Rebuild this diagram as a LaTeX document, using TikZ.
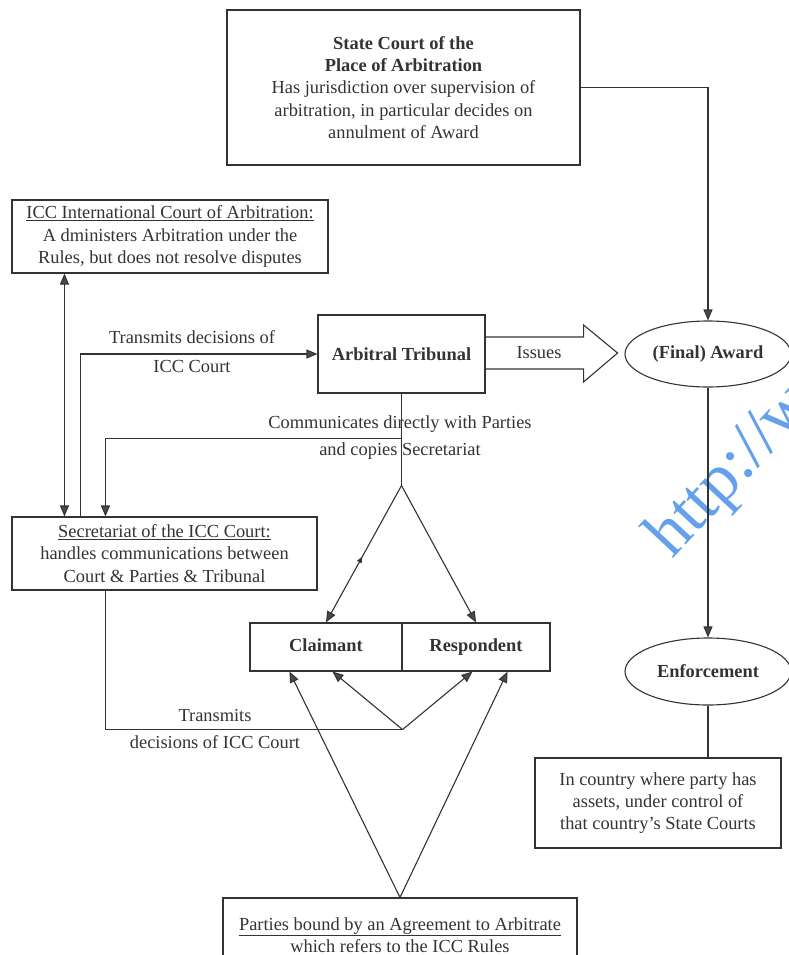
\documentclass[tikz,border=0pt]{standalone}
\usepackage{fontspec}
\setmainfont{Liberation Serif}
\usetikzlibrary{arrows.meta,shapes.geometric,calc,decorations.markings}
\definecolor{ink}{HTML}{333333}
\definecolor{tipc}{HTML}{4a4a4a}
\definecolor{wm}{RGB}{100,160,235}
\begin{document}
\begin{tikzpicture}[x=1pt,y=-1pt,
  every node/.style={font=\fontsize{18.4}{22.3}\selectfont, text=ink},
  box/.style={draw=ink, line width=1.1pt, align=center, inner sep=0pt},
  oval/.style={ellipse, draw=ink, line width=1.1pt, inner sep=0pt},
  conn/.style={draw=ink, line width=1.1pt},
  arr/.style={conn, -{Triangle[length=11pt,width=9pt,fill=tipc]}},
  arrtwo/.style={conn, {Triangle[length=11pt,width=9pt,fill=tipc]}-{Triangle[length=11pt,width=9pt,fill=tipc]}},
  midmark/.style={postaction={decorate}, decoration={markings, mark=at position 0.52 with {\arrowreversed[fill=tipc]{Triangle[length=6pt,width=5pt]}}}},
  lbl/.style={align=center, inner sep=0pt},
  party/.style={box, minimum height=48pt, text height=13pt, text depth=4pt}
]
\useasboundingbox (0,0) rectangle (788,955);

% watermark (behind everything)
\node[rotate=47, anchor=base west, inner sep=0pt, text=wm, font=\fontsize{68}{68}\selectfont] (wmark) at (672,560) {http://w};

% boxes
\node[box, minimum width=353pt, minimum height=155pt] (top) at (403.5,87.5)
  {\textbf{State Court of the}\\\textbf{Place of Arbitration}\\Has jurisdiction over supervision of\\arbitration, in particular decides on\\annulment of Award};
\node[box, minimum width=316pt, minimum height=73pt] (icc) at (170,236.5)
  {\underline{ICC International Court of Arbitration:}\\A dministers Arbitration under the\\Rules, but does not resolve disputes};
\node[box, minimum width=167pt, minimum height=78pt] (trib) at (401.5,354) {\textbf{Arbitral Tribunal}};
\node[oval, minimum width=166pt, minimum height=66pt] (award) at (708,354) {\textbf{(Final) Award}};
\node[box, minimum width=305pt, minimum height=73pt] (sec) at (164.5,553.5)
  {\underline{Secretariat of the ICC Court:}\\handles communications between\\Court \& Parties \& Tribunal};
\node[party, minimum width=152pt] (claim) at (326,647) {\textbf{Claimant}};
\node[party, minimum width=148pt] (resp) at (476,647) {\textbf{Respondent}};
\node[oval, minimum width=166pt, minimum height=67pt] (enf) at (708,671.5) {\textbf{Enforcement}};
\node[box, minimum width=246pt, minimum height=90pt] (country) at (658,803)
  {In country where party has\\assets, under control of\\that country’s State Courts};
\node[box, minimum width=354pt, minimum height=74pt] (parties) at (400,935)
  {\underline{Parties bound by an Agreement to Arbitrate}\\which refers to the ICC Rules};

% helper points
\coordinate (apex) at ($(trib.south)+(0,92)$);
\coordinate (comm) at ($(trib.south)+(0,45)$);
\coordinate (bot) at ($(claim.south east)+(0,58)$);

% block arrow "Issues"
\draw[conn, line join=miter] ($(trib.east)+(0,-17)$) -- ++(98,0) -- ++(0,-12)
  -- ($(trib.east)+(132,-1)$) -- ($(trib.east)+(98,28)$) -- ++(0,-13) -- ($(trib.east)+(0,15)$);
\node (issues) at (539,353) {Issues};

% connectors
\draw[arr] (top.east) -| (award.north);
\draw[arrtwo] ([xshift=53pt]icc.south west) -- ([xshift=53pt]sec.north west);
\draw[arr] ([xshift=69pt]sec.north west) |- (trib.west);
\draw[conn] (trib.south) -- (apex);
\draw[arr, midmark] (apex) -- (claim.north);
\draw[arr] (apex) -- (resp.north);
\draw[arr] (comm) -| ([xshift=94pt]sec.north west);
\draw[conn] ([xshift=94pt]sec.south west) |- (bot);
\draw[arr] (bot) -- ([xshift=83pt]claim.south west);
\draw[arr] (bot) -- ([xshift=71pt]resp.south west);
\draw[arr] (parties.north) -- ([xshift=40pt]claim.south west);
\draw[arr] (parties.north) -- ([xshift=-43pt]resp.south east);
\draw[arr] (award.south) -- (enf.north);
\draw[conn] (enf.south) -- (enf.south |- country.north);

% labels
\node[lbl] (lblA) at (192,351.5) {Transmits decisions of\\[6.5pt]ICC Court};
\node[lbl] (lblB) at (400,437.5) {Communicates directly with Parties\\[4.5pt]and copies Secretariat};
\node[lbl] (lblC) at (215,728.5) {Transmits\\[4.7pt]decisions of ICC Court};
\end{tikzpicture}
\end{document}
